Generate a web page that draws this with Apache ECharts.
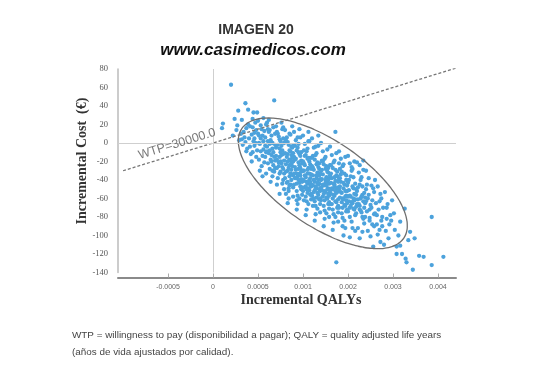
<!DOCTYPE html>
<html><head><meta charset="utf-8">
<script src="https://cdn.jsdelivr.net/npm/echarts@6/dist/echarts.min.js"></script>
<style>html,body{margin:0;padding:0;background:#fff}#c{width:534px;height:373px}</style>
</head><body><div id="c"></div>
<script>
// ---- data ----
const xTickValues = [-0.0005, 0, 0.0005, 0.001, 0.0015, 0.002, 0.0025];
const xTickLabels = ['-0.0005', '0', '0.0005', '0.001', '0.002', '0.003', '0.004'];
const yRange = [-140, 80];
const wtpThreshold = 30000;
const wtpLineQalys = [-0.001, 0.0027];
const wtpLabelAt = [-0.0004, -1];
const ellipseCenter = [0.00122, -43.6];
const ellipseAxisA = [0.00090, -59.2];
const ellipseAxisB = [0.000267, 38.5];
// simulated pairs: [incremental QALYs x 10^4, incremental cost (€)]
const simulationsE4 = [
[1.0,16],[1.1,21],[2.0,63],
[2.4,26],[2.8,35],[2.2,8],[2.6,14],[2.9,3],[2.7,19],
[3.2,25],[3.6,43],[3.9,36],[3.1,10],[3.3,-2],[3.5,6],[3.7,16],[3.4,12],[3.8,-6],[3.9,20],[3.6,1],[3.2,4],
[4.5,33],[4.9,33],[4.4,26],[4.1,18],[4.3,9],[4.6,-3],[4.8,14],[4.2,-12],[4.7,22],[4.5,2],[4.9,-8],[4.0,5],[4.3,-20],[4.6,11],[4.8,-15],[4.1,-4],[4.7,0],[4.4,17],
[5.0,24],[5.3,19],[5.5,8],[5.2,-1],[5.7,13],[5.9,-10],[5.1,-18],[5.4,-25],[5.6,2],[5.8,-3],[5.3,5],[5.5,-14],[5.9,20],[5.0,10],[5.2,-30],[5.7,-21],[5.4,15],[5.6,-7],[5.8,6],[5.1,0],[5.3,-9],[5.9,-33],[5.6,27],
[6.8,46],[6.0,22],[6.2,12],[6.4,3],[6.6,-6],[6.8,-15],[6.1,-22],[6.3,-28],[6.5,8],[6.7,17],[6.9,-2],[6.2,-11],[6.4,-18],[6.6,-36],[6.0,-4],[6.3,14],[6.5,-13],[6.7,-24],[6.9,10],[6.1,2],[6.4,-42],[6.8,-31],[6.2,25],[6.6,0],[6.5,-20],[6.0,-9],[6.9,-27],[6.3,-1],
[7.0,18],[7.2,10],[7.4,4],[7.6,-3],[7.8,-12],[7.1,-18],[7.3,-25],[7.5,-31],[7.7,-8],[7.9,0],[7.2,-38],[7.4,-15],[7.6,-22],[7.8,-28],[7.0,-5],[7.3,7],[7.5,-10],[7.7,15],[7.9,-19],[7.1,-45],[7.4,-33],[7.6,22],[7.8,-40],[7.2,-2],[7.5,2],[7.7,-26],[7.9,-50],[7.0,-14],[7.3,-21],[7.6,-13],[7.8,5],[7.4,-55],[7.1,12],
[8.0,14],[8.2,6],[8.4,-2],[8.6,-9],[8.8,-16],[8.1,-23],[8.3,-30],[8.5,-36],[8.7,-13],[8.9,-20],[8.2,-43],[8.4,-27],[8.6,-33],[8.8,-5],[8.0,-11],[8.3,1],[8.5,-18],[8.7,-40],[8.9,-48],[8.1,-55],[8.4,-60],[8.6,9],[8.8,-25],[8.2,-15],[8.5,-8],[8.7,-29],[8.9,-35],[8.0,-38],[8.3,-20],[8.6,-45],[8.8,18],[8.4,-52],[8.1,3],[8.5,-24],[8.7,-4],[8.9,-11],[8.3,-65],[8.6,-19],
[9.0,12],[9.2,3],[9.4,-5],[9.6,-12],[9.8,-19],[9.1,-26],[9.3,-33],[9.5,-40],[9.7,-47],[9.9,-22],[9.2,-29],[9.4,-36],[9.6,-43],[9.8,-50],[9.0,-15],[9.3,-8],[9.5,-1],[9.7,6],[9.9,-30],[9.1,-38],[9.4,-57],[9.6,-24],[9.8,-31],[9.2,-17],[9.5,-21],[9.7,-35],[9.9,-42],[9.0,-45],[9.3,-52],[9.6,-60],[9.8,-10],[9.4,-66],[9.1,-3],[9.5,-28],[9.7,-14],[9.9,-56],[9.3,-72],[9.6,15],[9.0,-33],[9.8,-39],
[10.0,8],[10.2,-1],[10.4,-9],[10.6,-16],[10.8,-23],[10.1,-30],[10.3,-37],[10.5,-44],[10.7,-51],[10.9,-28],[10.2,-35],[10.4,-42],[10.6,-49],[10.8,-56],[10.0,-20],[10.3,-13],[10.5,-6],[10.7,2],[10.9,-34],[10.1,-41],[10.4,-63],[10.6,-27],[10.8,-38],[10.2,-24],[10.5,-29],[10.7,-40],[10.9,-47],[10.0,-52],[10.3,-58],[10.6,-66],[10.8,-16],[10.4,-72],[10.1,-8],[10.5,-33],[10.7,-20],[10.9,-61],[10.3,-78],[10.6,12],[10.0,-40],[10.8,-45],[10.2,-48],[10.5,-54],
[11.0,5],[11.2,-5],[11.4,-13],[11.6,-21],[11.8,-28],[11.1,-35],[11.3,-42],[11.5,-49],[11.7,-56],[11.9,-33],[11.2,-40],[11.4,-47],[11.6,-54],[11.8,-61],[11.0,-25],[11.3,-18],[11.5,-11],[11.7,-3],[11.9,-39],[11.1,-46],[11.4,-68],[11.6,-32],[11.8,-44],[11.2,-29],[11.5,-35],[11.7,-45],[11.9,-52],[11.0,-57],[11.3,-63],[11.6,-71],[11.8,-22],[11.4,-77],[11.1,-14],[11.5,-38],[11.7,-26],[11.9,-66],[11.3,-84],[11.7,8],[11.0,-45],[11.8,-50],[11.2,-53],[11.5,-59],
[12.0,0],[12.2,-9],[12.4,-17],[12.6,-25],[12.8,-32],[12.1,-39],[12.3,-46],[12.5,-53],[12.7,-60],[12.9,-38],[12.2,-45],[12.4,-52],[12.6,-59],[12.8,-66],[12.0,-30],[12.3,-23],[12.5,-15],[12.7,-7],[12.9,-44],[12.1,-51],[12.4,-73],[12.6,-37],[12.8,-49],[12.2,-34],[12.5,-40],[12.7,-50],[12.9,-57],[12.0,-62],[12.3,-68],[12.6,-76],[12.8,-27],[12.4,-82],[12.1,-19],[12.5,-43],[12.7,-31],[12.9,-71],[12.3,-90],[12.0,-48],[12.8,-55],[12.2,-58],
[13.6,12],[13.7,-129],
[13.0,-4],[13.2,-13],[13.4,-21],[13.6,-29],[13.8,-36],[13.1,-43],[13.3,-50],[13.5,-57],[13.7,-64],[13.9,-42],[13.2,-49],[13.4,-56],[13.6,-63],[13.8,-70],[13.0,-35],[13.3,-27],[13.5,-19],[13.7,-11],[13.9,-48],[13.1,-55],[13.4,-77],[13.6,-41],[13.8,-53],[13.2,-38],[13.5,-45],[13.7,-54],[13.9,-61],[13.0,-66],[13.3,-72],[13.6,-80],[13.8,-31],[13.4,-86],[13.1,-24],[13.5,-47],[13.7,-35],[13.9,-75],[13.3,-94],[13.0,-52],
[14.0,-9],[14.2,-17],[14.4,-25],[14.6,-33],[14.8,-40],[14.1,-47],[14.3,-54],[14.5,-61],[14.7,-68],[14.9,-46],[14.2,-53],[14.4,-60],[14.6,-67],[14.8,-74],[14.0,-39],[14.3,-31],[14.5,-23],[14.7,-15],[14.9,-52],[14.1,-59],[14.4,-81],[14.6,-45],[14.8,-57],[14.2,-42],[14.5,-49],[14.7,-58],[14.9,-65],[14.0,-70],[14.3,-76],[14.6,-84],[14.8,-35],[14.4,-90],[14.5,-100],[14.1,-28],
[15.0,-14],[15.2,-22],[15.4,-30],[15.6,-37],[15.8,-44],[15.1,-51],[15.3,-58],[15.5,-65],[15.7,-72],[15.9,-50],[15.2,-57],[15.4,-64],[15.6,-71],[15.8,-78],[15.0,-43],[15.3,-36],[15.5,-28],[15.7,-20],[15.9,-56],[15.1,-63],[15.4,-85],[15.6,-49],[15.8,-61],[15.2,-80],[15.5,-92],[15.7,-62],[15.9,-69],[15.0,-74],[15.4,-26],[15.2,-102],
[16.0,-21],[16.3,-24],[16.7,-19],[16.2,-32],[16.4,-40],[16.6,-47],[16.8,-54],[16.1,-61],[16.3,-68],[16.5,-75],[16.7,-82],[16.9,-59],[16.2,-66],[16.4,-73],[16.6,-80],[16.8,-87],[16.0,-52],[16.3,-45],[16.5,-37],[16.7,-29],[16.9,-65],[16.1,-92],[16.3,-103],[16.6,-56],[16.8,-70],
[17.0,-30],[17.3,-38],[17.6,-46],[17.9,-53],[17.2,-60],[17.5,-67],[17.8,-49],[17.1,-74],[17.4,-81],[17.7,-88],[17.0,-63],[17.3,-56],[17.6,-70],[17.9,-77],[17.2,-95],[17.5,-101],[17.8,-112],[17.1,-45],[17.4,-84],[17.7,-62],
[18.0,-40],[18.7,-60],[18.3,-47],[18.6,-55],[18.1,-65],[18.4,-72],[18.8,-80],[18.2,-88],[18.5,-94],[18.6,-107],[18.9,-70],[18.3,-99],[18.0,-76],[18.5,-63],[18.8,-90],
[19.1,-53],[19.9,-62],[19.7,-78],[19.5,-103],[19.3,-70],[19.6,-88],[19.2,-95],[19.8,-84],[19.4,-66],[19.0,-110],
[20.2,-94],[20.8,-85],[20.4,-120],[20.4,-112],[20.8,-111],[20.6,-100],[20.1,-76],
[21.3,-71],[21.9,-96],[21.0,-120],[21.4,-125],[21.5,-129],[21.7,-105],
[22.2,-137],[22.4,-103],[22.9,-122],[23.4,-123],[24.3,-80],[24.3,-132],[25.6,-123],
[8.1,-31],[8.3,-12],[8.5,-46],[8.7,-22],[8.9,-3],[9.1,-18],[9.3,-44],[9.5,-10],[9.7,-27],[9.9,-48],[10.1,-22],[10.3,-47],[10.5,-17],[10.7,-33],[10.9,-55],[11.1,-27],[11.3,-51],[11.5,-23],[11.7,-40],[11.9,-60],[12.1,-29],[12.3,-55],[12.5,-28],[12.7,-43],[12.9,-64],[13.1,-33],[13.3,-60],[13.5,-37],[13.7,-49],[13.9,-68],[14.1,-38],[14.3,-64],[14.5,-43],[14.7,-52],[14.9,-72],[15.1,-40],[15.3,-68],[15.5,-47],[15.7,-55],[15.9,-76],[16.1,-48],[16.3,-72],[16.5,-58],[16.7,-63],[16.9,-80],
[9.2,-38],[9.6,-33],[10.0,-30],[10.4,-50],[10.8,-42],[11.2,-60],[11.6,-43],[12.0,-40],[12.4,-62],[12.8,-40],[13.2,-66],[13.6,-52],[14.0,-50],[14.4,-70],[14.8,-62],[15.2,-70],[15.6,-60],[16.0,-66],[16.4,-60],[10.2,-14],[11.0,-16],[11.8,-35],[12.6,-46],[13.4,-44],[14.2,-34],[15.0,-58],[7.5,-20],[7.9,-33],[8.3,-42],[6.7,-10],[7.1,-27],[5.8,-15],[6.3,-8],[5.1,8],[4.6,5],[6.1,15],[7.4,-6],[6.9,-19],[17.4,-72],[17.9,-90],[18.2,-78],[18.7,-84],[19.3,-82],[17.0,-50],[16.6,-96],[15.8,-95],[14.7,-92],[13.9,-85],[12.9,-80],[11.9,-75],[11.1,-68],[10.1,-62],[9.3,-62],[8.9,-58],[8.4,-49],[7.7,-44],[6.6,-30],[5.5,-36],[4.4,-10],[3.7,-9],[12.2,-20],[13.0,-24],[14.0,-22],[11.4,-4],[10.6,2],[9.4,6],[8.5,10],[7.8,17]
];

// ---- chart ----
const points = simulationsE4.map(p => [p[0] / 10000, p[1]]);
const wtpLine = wtpLineQalys.map(q => [q, q * wtpThreshold]);
const ellipsePts = [];
for (let i = 0; i <= 96; i++) {
  const t = i / 96 * 2 * Math.PI;
  ellipsePts.push([
    ellipseCenter[0] + Math.cos(t) * ellipseAxisA[0] + Math.sin(t) * ellipseAxisB[0],
    ellipseCenter[1] + Math.cos(t) * ellipseAxisA[1] + Math.sin(t) * ellipseAxisB[1]
  ]);
}
function tickLabel(v) {
  for (let i = 0; i < xTickValues.length; i++) {
    if (Math.abs(v - xTickValues[i]) < 1e-9) return xTickLabels[i];
  }
  return '';
}
const chart = echarts.init(document.getElementById('c'), null, {renderer: 'canvas'});
chart.setOption({
  animation: false,
  backgroundColor: '#fff',
  grid: {left: 118, right: 78, top: 69, bottom: 100.5, containLabel: false},
  xAxis: {
    type: 'value', min: -0.001056, max: 0.0027, position: 'bottom', offset: 5,
    splitLine: {show: false},
    axisLine: {show: true, onZero: false, lineStyle: {color: '#8a8a8a', width: 2}},
    axisTick: {show: true, inside: true, length: 4, customValues: xTickValues, lineStyle: {color: '#aaa'}},
    axisLabel: {customValues: xTickValues, formatter: tickLabel, color: '#666', fontSize: 7,
      fontFamily: 'Liberation Sans', margin: 6}
  },
  yAxis: {
    type: 'value', min: yRange[0], max: yRange[1], interval: 20,
    splitLine: {show: false},
    axisLine: {show: true, onZero: false, lineStyle: {color: '#bbb', width: 1.5}},
    axisTick: {show: false},
    axisLabel: {color: '#555', fontSize: 8.5, fontFamily: 'Liberation Serif', margin: 10}
  },
  series: [
    {
      type: 'scatter', data: points, symbolSize: 4.3,
      itemStyle: {color: '#4ca2dc', opacity: 1},
      markLine: {
        silent: true, symbol: ['none', 'none'], label: {show: false},
        lineStyle: {color: '#cfcfcf', type: 'solid', width: 1},
        data: [{yAxis: 0}, {xAxis: 0}]
      },
      z: 2
    },
    {
      type: 'line', data: wtpLine, showSymbol: false, symbol: 'none',
      lineStyle: {color: '#777', width: 1.3, type: [3, 2]}, z: 3
    },
    {
      type: 'line', data: ellipsePts, showSymbol: false, symbol: 'none', smooth: true,
      lineStyle: {color: '#6f6f6f', width: 1.3}, z: 4
    },
    {
      type: 'scatter', data: [wtpLabelAt], symbolSize: 0, silent: true,
      label: {show: true, position: 'inside', rotate: 17,
        formatter: 'WTP=' + wtpThreshold.toFixed(1),
        color: '#555', fontSize: 12.5, fontFamily: 'Liberation Sans'}, z: 5
    }
  ],
  graphic: [
    {type: 'text', x: 256, y: 30, style: {text: 'IMAGEN 20', font: 'bold 14px "Liberation Sans"', fill: '#333', align: 'center', verticalAlign: 'middle', textAlign: 'center', textVerticalAlign: 'middle'}},
    {type: 'text', x: 253, y: 50, style: {text: 'www.casimedicos.com', font: 'italic bold 17px "Liberation Sans"', fill: '#111', align: 'center', verticalAlign: 'middle', textAlign: 'center', textVerticalAlign: 'middle'}},
    {type: 'text', x: 82, y: 161, rotation: Math.PI / 2, style: {text: 'Incremental Cost  (\u20ac)', font: 'bold 14px "Liberation Serif"', fill: '#333', align: 'center', verticalAlign: 'middle', textAlign: 'center', textVerticalAlign: 'middle'}},
    {type: 'text', x: 301, y: 300, style: {text: 'Incremental QALYs', font: 'bold 14px "Liberation Serif"', fill: '#333', align: 'center', verticalAlign: 'middle', textAlign: 'center', textVerticalAlign: 'middle'}},
    {type: 'text', x: 72, y: 335, style: {text: 'WTP = willingness to pay (disponibilidad a pagar); QALY = quality adjusted life years', font: '9.9px "Liberation Sans"', fill: '#444', align: 'left', verticalAlign: 'middle', textAlign: 'left', textVerticalAlign: 'middle'}},
    {type: 'text', x: 72, y: 352, style: {text: '(años de vida ajustados por calidad).', font: '9.9px "Liberation Sans"', fill: '#444', align: 'left', verticalAlign: 'middle', textAlign: 'left', textVerticalAlign: 'middle'}}
  ]
});
</script></body></html>
